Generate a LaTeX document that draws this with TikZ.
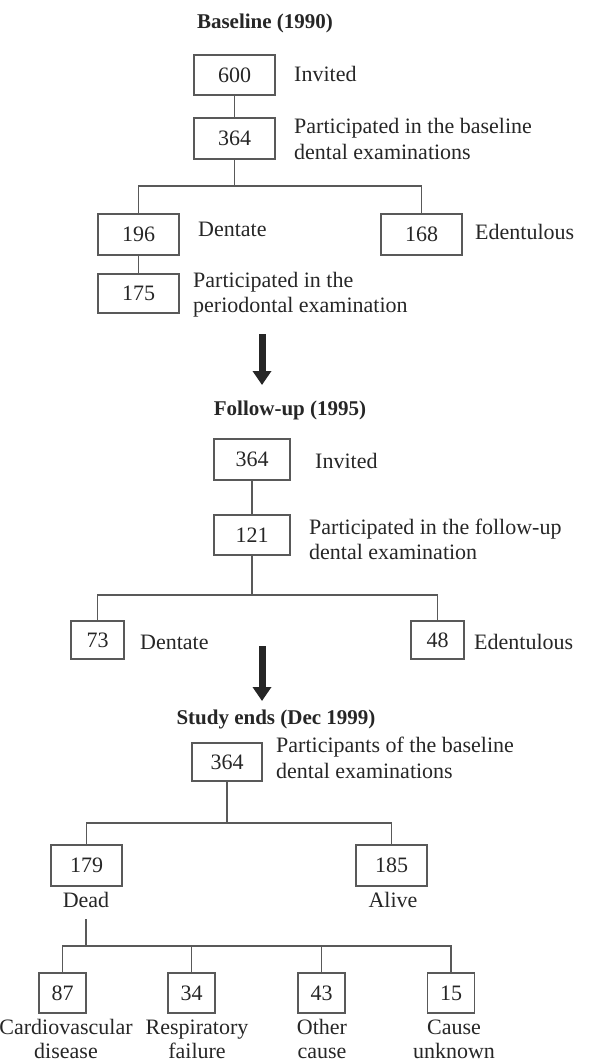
\documentclass[tikz,border=0pt]{standalone}
\usepackage{fontspec}
\setmainfont{Liberation Serif}
\usetikzlibrary{arrows.meta}
\begin{document}
\begin{tikzpicture}[x=1pt,y=-1pt,
  every node/.style={font=\fontsize{22}{25.5}\selectfont, text=black!85},
  box/.style={draw=black!65, line width=1.3pt, inner sep=0pt, minimum width=#1},
  box/.default=81pt,
  lbl/.style={anchor=west, inner sep=0pt, align=left},
  clbl/.style={inner sep=0pt, align=center},
  blbl/.style={inner sep=0pt, align=center, font=\fontsize{22}{24}\selectfont},
  ttl/.style={inner sep=0pt, font=\fontsize{21}{25}\selectfont\bfseries},
  conn/.style={draw=black!65, line width=1.3pt},
  bigarrow/.style={line width=7pt, black!85, -{Triangle[length=14pt,width=18pt]}}]
\useasboundingbox (0,0) rectangle (598,1064);

% ---------- Baseline ----------
\node[ttl] (t1) at (265,23) {Baseline (1990)};
\node[box, minimum height=40pt] (b600) at (234.5,75) {600};
\node[lbl] (l600) at (294,74) {Invited};
\node[box, minimum height=41pt] (b364a) at (234.5,138.5) {364};
\node[lbl] (l364a) at (294,139) {Participated in the baseline\\dental examinations};
\node[box, minimum height=41pt] (b196) at (138.5,234.5) {196};
\node[lbl] (l196) at (198,229) {Dentate};
\node[box, minimum height=41pt] (b168) at (421.5,234.5) {168};
\node[lbl] (l168) at (475,232) {Edentulous};
\node[box, minimum height=39pt] (b175) at (138.5,293.5) {175};
\node[lbl] (l175) at (193,294.5) {Participated in the\\periodontal examination};
\coordinate (j1) at (234.5,186);
\draw[conn] (b600) -- (b364a);
\draw[conn] (b364a) -- (j1);
\draw[conn] (b196.north) |- (j1) -| (b168.north);
\draw[conn] (b196) -- (b175);

\coordinate (a1s) at (262,334);
\coordinate (a1e) at (262,385);
\draw[bigarrow] (a1s) -- (a1e);

% ---------- Follow-up ----------
\node[ttl] (t2) at (290,410) {Follow-up (1995)};
\node[box=76pt, minimum height=41pt] (b364b) at (252,459.5) {364};
\node[lbl] (l364b) at (315,461) {Invited};
\node[box=76pt, minimum height=40pt] (b121) at (252,535) {121};
\node[lbl] (l121) at (309,539.5) {Participated in the follow-up\\dental examination};
\node[box=53pt, minimum height=38pt] (b73) at (97.5,640) {73};
\node[lbl] (l73) at (140,642) {Dentate};
\node[box=53pt, minimum height=38pt] (b48) at (437.5,640) {48};
\node[lbl] (l48) at (474,642) {Edentulous};
\coordinate (j2) at (252,595);
\draw[conn] (b364b) -- (b121);
\draw[conn] (b121) -- (j2);
\draw[conn] (b73.north) |- (j2) -| (b48.north);

\coordinate (a2s) at (262,646);
\coordinate (a2e) at (262,701);
\draw[bigarrow] (a2s) -- (a2e);

% ---------- Study ends ----------
\node[ttl] (t3) at (276,719) {Study ends (Dec 1999)};
\node[box=70pt, minimum height=38pt] (b364c) at (227,762) {364};
\node[lbl] (l364c) at (276,758) {Participants of the baseline\\dental examinations};
\node[box=71pt, minimum height=41pt] (b179) at (86.5,865.5) {179};
\node[clbl] (ldead) at (86,900) {Dead};
\node[box=71pt, minimum height=41pt] (b185) at (391.5,865.5) {185};
\node[clbl] (lalive) at (393,900) {Alive};
\coordinate (j3) at (227,823);
\draw[conn] (b364c) -- (j3);
\draw[conn] (b179.north) |- (j3) -| (b185.north);

\node[box=47pt, minimum height=40pt] (b87) at (62.5,993) {87};
\node[box=47pt, minimum height=40pt] (b34) at (191.5,993) {34};
\node[box=47pt, minimum height=40pt] (b43) at (321.5,993) {43};
\node[box=47pt, minimum height=40pt] (b15) at (451,993) {15};
\node[blbl] (l87) at (66,1039) {Cardiovascular\\disease};
\node[blbl] (l34) at (197,1039) {Respiratory\\failure};
\node[blbl] (l43) at (322,1039) {Other\\cause};
\node[blbl] (l15) at (454,1039) {Cause\\unknown};
\coordinate (dtop) at (86,919);
\coordinate (j4) at (86,946);
\draw[conn] (dtop) -- (j4);
\draw[conn] (b87.north) |- (j4) -| (b15.north);
\draw[conn] (b34.north) -- (b34.north |- j4);
\draw[conn] (b43.north) -- (b43.north |- j4);
\end{tikzpicture}
\end{document}
